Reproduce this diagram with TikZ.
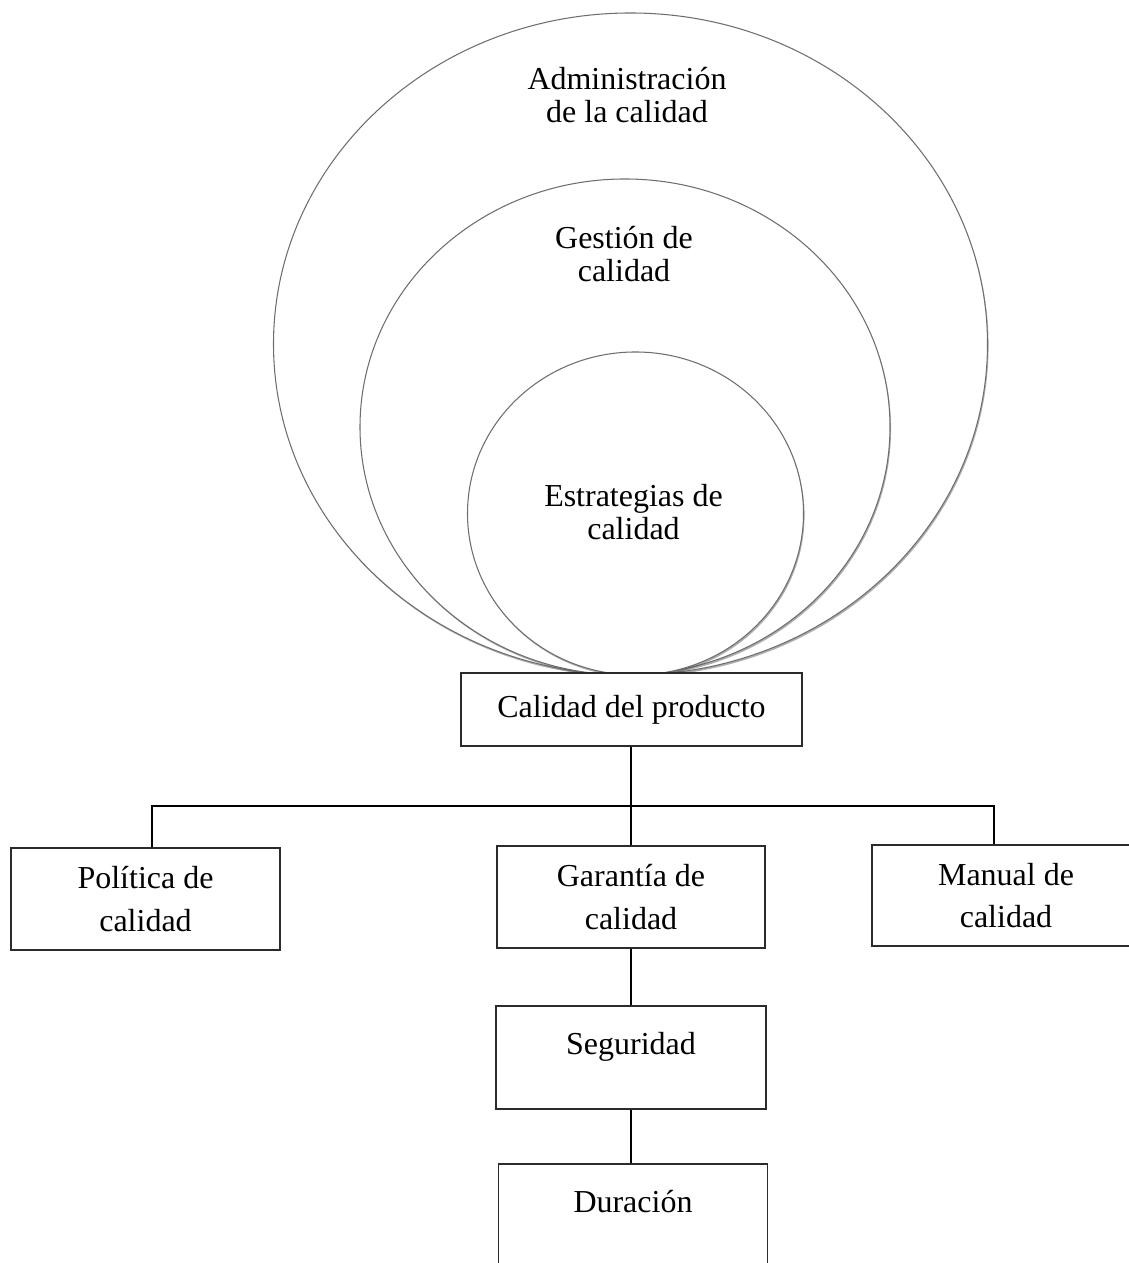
\documentclass[tikz,border=0pt]{standalone}
\usepackage{fontspec}
\setmainfont{Liberation Serif}
\usepackage{xcolor}
\usepackage{tikz}
\usetikzlibrary{positioning,calc,shapes.geometric,shadows}
\definecolor{rim}{HTML}{6E6E6E}
\definecolor{edge}{HTML}{2B2B2B}

\begin{document}
\begin{tikzpicture}[x=1cm,y=1cm,
  ring/.style={ellipse,draw=rim,line width=0.6pt,fill=white,inner sep=0pt,
    outer sep=0pt,drop shadow={shadow xshift=0.6pt,shadow yshift=-1.1pt,
    opacity=0.45,fill=black!70}},
  lbl/.style={align=center,inner sep=0pt,font=\fontsize{18.2}{18.6}\selectfont},
  box/.style={draw=edge,line width=0.8pt,fill=white,align=center,inner sep=2pt,
    font=\fontsize{18.2}{24}\selectfont},
  link/.style={draw=black,line width=0.9pt}]
  \useasboundingbox (0,0) rectangle (22.58,25.26);

  % nested quality circles
  \node[ring,minimum width=14.28cm,minimum height=13.24cm] (adm) at (12.61,18.38) {};
  \node[ring,minimum width=10.60cm,minimum height=9.92cm] (ges) at (12.50,16.72) {};
  \node[ring,minimum width=6.72cm,minimum height=6.46cm] (est) at (12.71,14.99) {};
  \node[lbl] (admtxt) at (12.54,23.36) {Administración\\de la calidad};
  \node[lbl] (gestxt) at (12.48,20.18) {Gestión de\\calidad};
  \node[lbl] (esttxt) at (12.67,15.02) {Estrategias de\\calidad};

  % product tree
  \node[box,minimum width=6.82cm,minimum height=1.46cm] (prod) at (12.63,11.07)
    {Calidad del producto};
  \node[box,minimum width=5.38cm,minimum height=2.04cm] (pol) at (2.91,7.28)
    {Política de\\calidad};
  \node[box,minimum width=5.36cm,minimum height=2.04cm] (gar) at (12.62,7.32)
    {Garantía de\\calidad};
  \node[box,minimum width=5.36cm,minimum height=2.02cm] (man) at (20.12,7.35)
    {Manual de\\calidad};
  \node[box,minimum width=5.40cm,minimum height=2.06cm] (seg) at (12.62,4.11)
    {Seguridad\\[-8pt]\mbox{}};
  \node[box,minimum width=5.38cm,minimum height=2.06cm] (dur) at (12.66,0.95)
    {Duración\\[-8pt]\mbox{}};

  \coordinate (busL) at (3.04,9.14);
  \coordinate (busR) at (19.88,9.14);
  \path[link] (gar.north |- prod.south) -- (gar.north);
  \path[link] (busL |- pol.north) -- (busL) -- (busR) -- (busR |- man.north);
  \path[link] (gar.south) -- (seg.north);
  \path[link] (seg.south) -- (seg.south |- dur.north);
\end{tikzpicture}
\end{document}
